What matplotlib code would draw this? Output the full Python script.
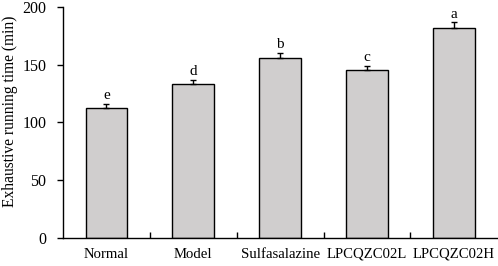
import matplotlib
matplotlib.use('Agg')
import matplotlib.pyplot as plt
import numpy as np

groups = ['Normal', 'Model', 'Sulfasalazine', 'LPCQZC02L', 'LPCQZC02H']
values = [112.3, 133.3, 156.1, 145.2, 181.6]
errors = [3.5, 3.5, 4.0, 3.7, 5.0]
letters = ['e', 'd', 'b', 'c', 'a']

plt.rcParams['font.family'] = ['Liberation Serif', 'DejaVu Serif']

fig = plt.figure(figsize=(4.98, 2.66), dpi=100)
ax = fig.add_axes([0.1265, 0.105, 0.872, 0.869])

x = np.arange(len(groups))
ax.bar(x, values, width=0.48, color='#d0cece', edgecolor='black', linewidth=1.0, zorder=2)
ax.errorbar(x, values, yerr=[np.zeros(len(errors)), errors], fmt='none',
            ecolor='black', elinewidth=1.0, capsize=2.5, capthick=1.0, zorder=3)

for xi, v, e, l in zip(x, values, errors, letters):
    ax.text(xi, v + e + 1.5, l, ha='center', va='bottom', fontsize=11)

ax.set_xlim(-0.5, len(groups) - 0.5)
ax.set_ylim(0, 200)
ax.set_yticks([0, 50, 100, 150, 200])
ax.set_ylabel('Exhaustive running time (min)', fontsize=11.2)
ax.yaxis.set_label_coords(-0.103, 0.55)

ax.set_xticks(x)
ax.set_xticklabels(groups, fontsize=10.6)
ax.tick_params(axis='x', length=0, pad=7)
ax.set_xticks(np.arange(0.5, len(groups) - 0.5, 1.0), minor=True)
ax.tick_params(axis='x', which='minor', direction='in', length=4, width=1.0)
ax.tick_params(axis='y', direction='out', length=4, width=1.0, labelsize=11.5, pad=8)

ax.spines['top'].set_visible(False)
ax.spines['right'].set_visible(False)
ax.spines['left'].set_linewidth(1.0)
ax.spines['bottom'].set_linewidth(1.0)

plt.savefig('out.png', dpi=100)
